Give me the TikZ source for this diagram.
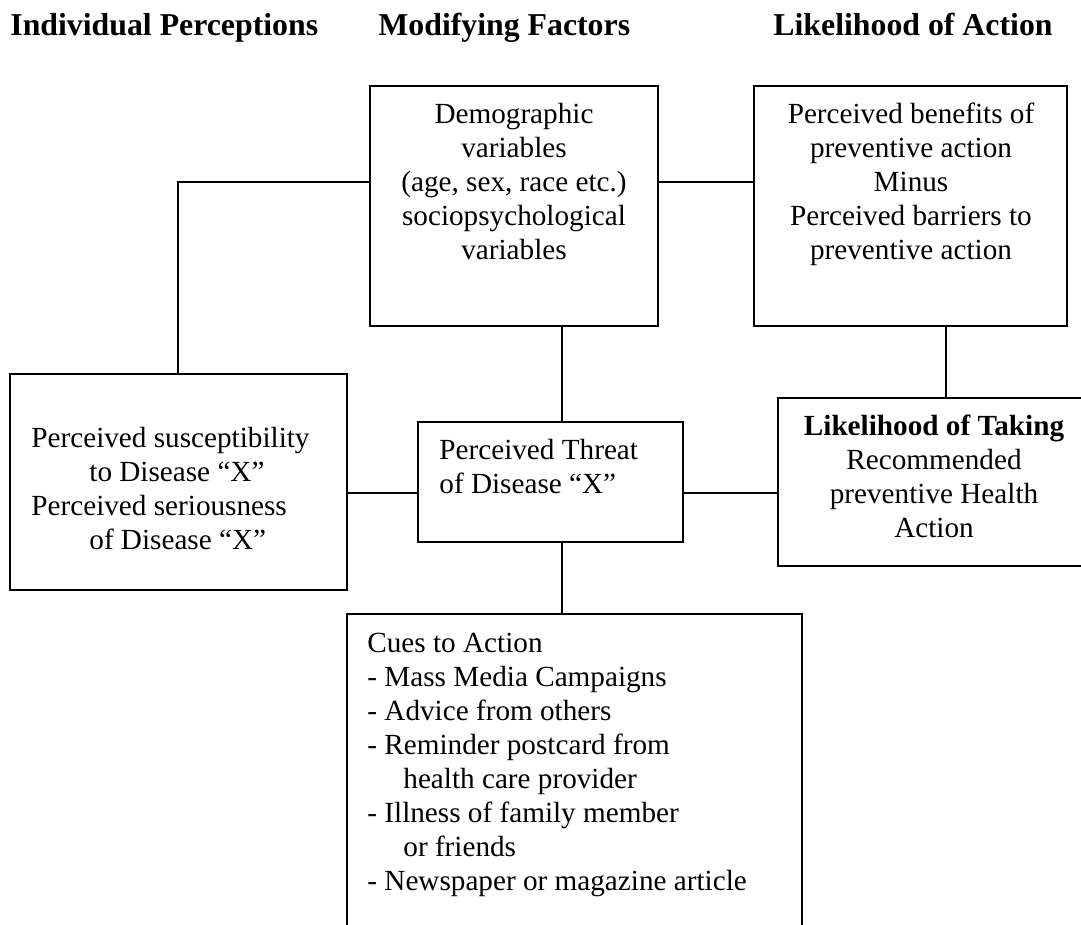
\documentclass[tikz,border=0pt]{standalone}
\usepackage{fontspec}
\setmainfont{Liberation Serif}
\usetikzlibrary{fit}

\begin{document}
\begin{tikzpicture}[x=0.5pt,y=-0.5pt,
  frame/.style={draw, line width=1pt, inner sep=0pt},
  body/.style={inner sep=0pt, font=\fontsize{14.6}{17}\selectfont},
  head/.style={inner sep=0pt, anchor=base west, font=\fontsize{15.9}{18}\selectfont\bfseries},
  link/.style={line width=0.85pt}]
  \useasboundingbox (0,0) rectangle (1081,925);
  \clip (0,0) rectangle (1081,925);

  % Column headings
  \node[head] (indiv) at (10,36) {Individual Perceptions};
  \node[head] (modif) at (378,36) {Modifying Factors};
  \node[head] (likely) at (773,36) {Likelihood of Action};

  % Define boxes
  \node[frame, fit={(370,86) (658,326)}] (demo) {};
  \node[frame, fit={(754,86) (1067,326)}] (benefit) {};
  \node[frame, fit={(10,374) (347,590)}] (suscept) {};
  \node[frame, fit={(418,422) (683,542)}] (threat) {};
  \node[frame, fit={(778,398) (1090,566)}] (taking) {};
  \node[frame, fit={(347,614) (802,940)}] (cues) {};

  % Box texts
  \node[body, anchor=north, align=center] (demotext) at (514,103)
    {Demographic\\variables\\(age, sex, race etc.)\\sociopsychological\\variables};
  \node[body, anchor=north, align=center] (benefittext) at (911,103)
    {Perceived benefits of\\preventive action\\Minus\\Perceived barriers to\\preventive action};
  \node[body, anchor=north west, align=left] (suscepttext) at (31,427)
    {Perceived susceptibility\\\hspace*{29pt}to Disease ``X''\\Perceived seriousness\\\hspace*{29pt}of Disease ``X''};
  \node[body, anchor=north west, align=left] (threattext) at (439,439)
    {Perceived Threat\\of Disease ``X''};
  \node[body, anchor=north, align=center] (takingtext) at (934,415)
    {\textbf{Likelihood of Taking}\\Recommended\\preventive Health\\Action};
  \node[body, anchor=north west, align=left] (cuestext) at (367,633)
    {Cues to Action\\- Mass Media Campaigns\\- Advice from others\\- Reminder postcard from\\\hspace*{18pt}health care provider\\- Illness of family member\\\hspace*{18pt}or friends\\- Newspaper or magazine article};

  % Connecting lines
  \coordinate (elbow) at (178,182);
  \coordinate (stem) at (562,0);
  \coordinate (drop) at (946,0);
  \coordinate (row) at (0,493);
  \draw[link] (demo.west |- elbow) -- (elbow) -- (elbow |- suscept.north);
  \draw[link] (demo.east |- elbow) -- (benefit.west |- elbow);
  \draw[link] (stem |- demo.south) -- (stem |- threat.north);
  \draw[link] (drop |- benefit.south) -- (drop |- taking.north);
  \draw[link] (suscept.east |- row) -- (threat.west |- row);
  \draw[link] (threat.east |- row) -- (taking.west |- row);
  \draw[link] (stem |- threat.south) -- (stem |- cues.north);
\end{tikzpicture}
\end{document}
